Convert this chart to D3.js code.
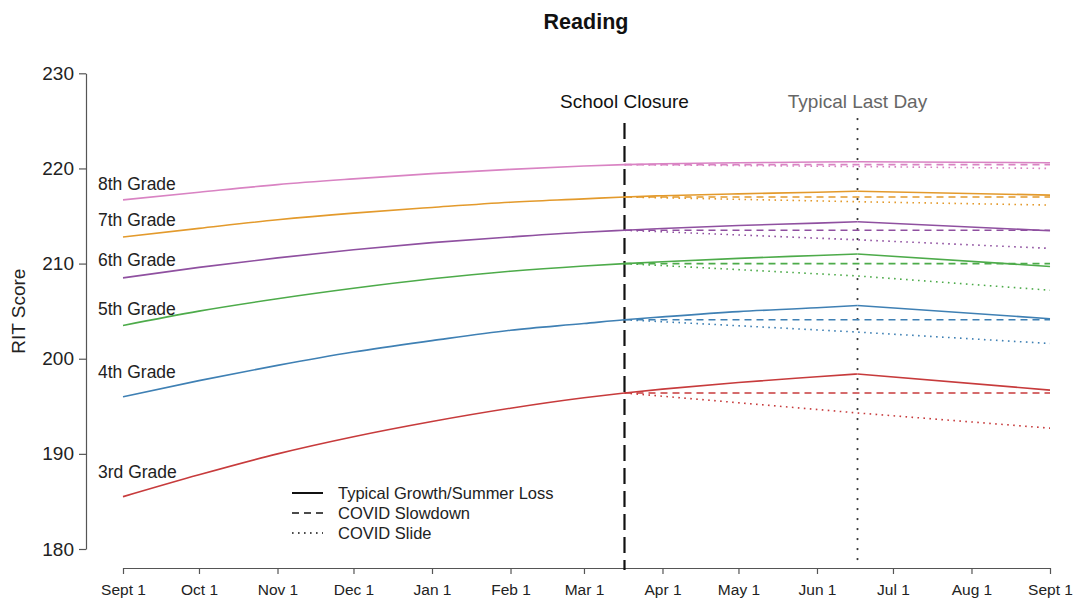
<!DOCTYPE html>
<html>
<head>
<meta charset="utf-8">
<script src="https://cdn.jsdelivr.net/npm/d3@7/dist/d3.min.js"></script>
<style>
  html, body { margin: 0; padding: 0; background: #fff; }
  svg text { font-family: "Liberation Sans", Arial, Helvetica, sans-serif; }
</style>
</head>
<body>
<svg id="chart" width="1075" height="603"></svg>
<script>
// ---------- data ----------
const grades = ["3rd Grade", "4th Grade", "5th Grade", "6th Grade", "7th Grade", "8th Grade"];
const gradeColors = ["#c73b3c", "#3f80b4", "#4dab4a", "#8f50a0", "#e39a2c", "#d983c3"];
const labelScores = [187.5, 198.0, 204.6, 209.7, 213.9, 217.7];

const schoolYearDates = ["2019-09-01", "2019-10-01", "2019-11-01", "2019-12-01", "2020-01-01", "2020-02-01", "2020-03-01", "2020-03-17"];
const schoolYearScores = [
  [185.5, 187.8, 190.0, 191.8, 193.4, 194.8, 195.9, 196.4],
  [196.0, 197.7, 199.3, 200.7, 201.9, 203.0, 203.7, 204.1],
  [203.5, 205.0, 206.3, 207.4, 208.4, 209.2, 209.75, 210.0],
  [208.5, 209.6, 210.6, 211.45, 212.2, 212.8, 213.3, 213.5],
  [212.8, 213.7, 214.6, 215.3, 215.9, 216.45, 216.8, 217.0],
  [216.7, 217.5, 218.3, 218.9, 219.45, 219.9, 220.25, 220.4]
];

const typicalDates = ["2020-03-17", "2020-04-01", "2020-05-01", "2020-06-01", "2020-06-17"];
const typicalScores = [
  [196.4, 196.8, 197.5, 198.1, 198.4],
  [204.1, 204.4, 204.95, 205.35, 205.6],
  [210.0, 210.2, 210.55, 210.85, 211.0],
  [213.5, 213.68, 214.0, 214.25, 214.4],
  [217.0, 217.13, 217.33, 217.5, 217.6],
  [220.4, 220.5, 220.6, 220.67, 220.7]
];
const summerDates = ["2020-06-17", "2020-09-01"];
const summerScores = [
  [198.4, 196.7],
  [205.6, 204.2],
  [211.0, 209.7],
  [214.4, 213.45],
  [217.6, 217.2],
  [220.7, 220.6]
];

const slowdownDates = ["2020-03-17", "2020-09-01"];
const slowdownScores = [
  [196.4, 196.4],
  [204.1, 204.1],
  [210.0, 210.0],
  [213.5, 213.5],
  [217.0, 217.0],
  [220.4, 220.4]
];

const slideDates = ["2020-03-17", "2020-06-17", "2020-09-01"];
const slideScores = [
  [196.4, 194.3, 192.7],
  [204.1, 202.8, 201.6],
  [210.0, 208.7, 207.2],
  [213.5, 212.5, 211.6],
  [217.0, 216.5, 216.15],
  [220.4, 220.2, 220.0]
];

const xTickDates = ["2019-09-01", "2019-10-01", "2019-11-01", "2019-12-01", "2020-01-01", "2020-02-01", "2020-03-01", "2020-04-01", "2020-05-01", "2020-06-01", "2020-07-01", "2020-08-01", "2020-09-01"];
const xTickLabels = ["Sept 1", "Oct 1", "Nov 1", "Dec 1", "Jan 1", "Feb 1", "Mar 1", "Apr 1", "May 1", "Jun 1", "Jul 1", "Aug 1", "Sept 1"];
const yTicks = [180, 190, 200, 210, 220, 230];

const closureDate = "2020-03-17";
const lastDayDate = "2020-06-17";
const legendLabels = ["Typical Growth/Summer Loss", "COVID Slowdown", "COVID Slide"];

// ---------- setup ----------
const parse = d3.utcParse("%Y-%m-%d");
const svg = d3.select("#chart");

const x = d3.scaleUtc()
  .domain([parse("2019-09-01"), parse("2020-09-01")])
  .range([123, 1050]);
const y = d3.scaleLinear().domain([180, 230]).range([549, 73.3]);

const axisColor = "#555";
const xAxisY = 568;
const yAxisX = 86;

const pts = (dates, vals) => dates.map((d, i) => [parse(d), vals[i]]);
const smooth = d3.line().x(d => x(d[0])).y(d => y(d[1])).curve(d3.curveMonotoneX);
const straight = d3.line().x(d => x(d[0])).y(d => y(d[1]));

// ---------- title ----------
svg.append("text").attr("x", 586).attr("y", 29)
  .attr("text-anchor", "middle").attr("font-size", 21.5).attr("font-weight", "bold")
  .attr("fill", "#111").text("Reading");

// ---------- y axis ----------
const yAxis = svg.append("g").attr("transform", `translate(${yAxisX},0)`)
  .call(d3.axisLeft(y).tickValues(yTicks).tickSize(7).tickPadding(5).tickSizeOuter(0));
yAxis.select(".domain").attr("stroke", axisColor).attr("stroke-width", 1.2);
yAxis.selectAll(".tick line").attr("stroke", axisColor).attr("stroke-width", 1.2);
yAxis.selectAll(".tick text").attr("font-size", 19).attr("fill", "#222")
  .attr("font-family", "'Liberation Sans', Arial, sans-serif");

svg.append("text")
  .attr("transform", `translate(25,${(y(180) + y(230)) / 2}) rotate(-90)`)
  .attr("text-anchor", "middle").attr("font-size", 19).attr("fill", "#222")
  .text("RIT Score");

// ---------- x axis ----------
const xAxis = svg.append("g").attr("transform", `translate(0,${xAxisY})`)
  .call(d3.axisBottom(x).tickValues(xTickDates.map(parse))
    .tickFormat((d, i) => xTickLabels[i]).tickSize(6).tickPadding(10).tickSizeOuter(0));
xAxis.select(".domain").attr("stroke", axisColor).attr("stroke-width", 1.2);
xAxis.selectAll(".tick line").attr("stroke", axisColor).attr("stroke-width", 1.2);
xAxis.selectAll(".tick text").attr("font-size", 15.5).attr("fill", "#222")
  .attr("font-family", "'Liberation Sans', Arial, sans-serif");

// ---------- reference lines ----------
svg.append("line")
  .attr("x1", x(parse(closureDate))).attr("x2", x(parse(closureDate)))
  .attr("y1", 123).attr("y2", xAxisY + 2)
  .attr("stroke", "#111").attr("stroke-width", 2.2).attr("stroke-dasharray", "16 7");
svg.append("text").attr("x", x(parse(closureDate))).attr("y", 108)
  .attr("text-anchor", "middle").attr("font-size", 19).attr("fill", "#111")
  .text("School Closure");

svg.append("line")
  .attr("x1", x(parse(lastDayDate))).attr("x2", x(parse(lastDayDate)))
  .attr("y1", 119).attr("y2", xAxisY)
  .attr("stroke", "#333").attr("stroke-width", 2.2)
  .attr("stroke-linecap", "round").attr("stroke-dasharray", "0.1 9.9");
svg.append("text").attr("x", x(parse(lastDayDate))).attr("y", 108)
  .attr("text-anchor", "middle").attr("font-size", 19).attr("fill", "#666")
  .text("Typical Last Day");

// ---------- series ----------
const g = svg.append("g");
grades.forEach((grade, i) => {
  const c = gradeColors[i];
  // COVID slide (dotted)
  g.append("path").attr("d", straight(pts(slideDates, slideScores[i])))
    .attr("fill", "none").attr("stroke", c).attr("stroke-width", 1.6)
    .attr("stroke-dasharray", "1.6 4.4");
  // COVID slowdown (dashed)
  g.append("path").attr("d", straight(pts(slowdownDates, slowdownScores[i])))
    .attr("fill", "none").attr("stroke", c).attr("stroke-width", 1.6)
    .attr("stroke-dasharray", "7 5");
  // typical growth (solid)
  const growth = pts(schoolYearDates, schoolYearScores[i]).concat(pts(typicalDates, typicalScores[i]).slice(1));
  g.append("path").attr("d", smooth(growth))
    .attr("fill", "none").attr("stroke", c).attr("stroke-width", 1.6);
  g.append("path").attr("d", straight(pts(summerDates, summerScores[i])))
    .attr("fill", "none").attr("stroke", c).attr("stroke-width", 1.6);
  // grade label
  svg.append("text").attr("x", x(parse(schoolYearDates[0])) - 25).attr("y", y(labelScores[i]))
    .attr("font-size", 17.5).attr("fill", "#222").text(grade);
});

// ---------- legend ----------
const dashes = [null, "7 5", "1.6 4.4"];
const legend = svg.append("g").attr("transform", "translate(292,493)");
legendLabels.forEach((lab, i) => {
  const row = legend.append("g").attr("transform", `translate(0,${i * 20})`);
  const ln = row.append("line").attr("x1", 0).attr("x2", 31).attr("y1", 0).attr("y2", 0)
    .attr("stroke", "#111").attr("stroke-width", i === 0 ? 2 : 1.6);
  if (dashes[i]) ln.attr("stroke-dasharray", dashes[i]);
  row.append("text").attr("x", 46).attr("y", 6).attr("font-size", 16.5)
    .attr("fill", "#222").text(lab);
});
</script>
</body>
</html>
